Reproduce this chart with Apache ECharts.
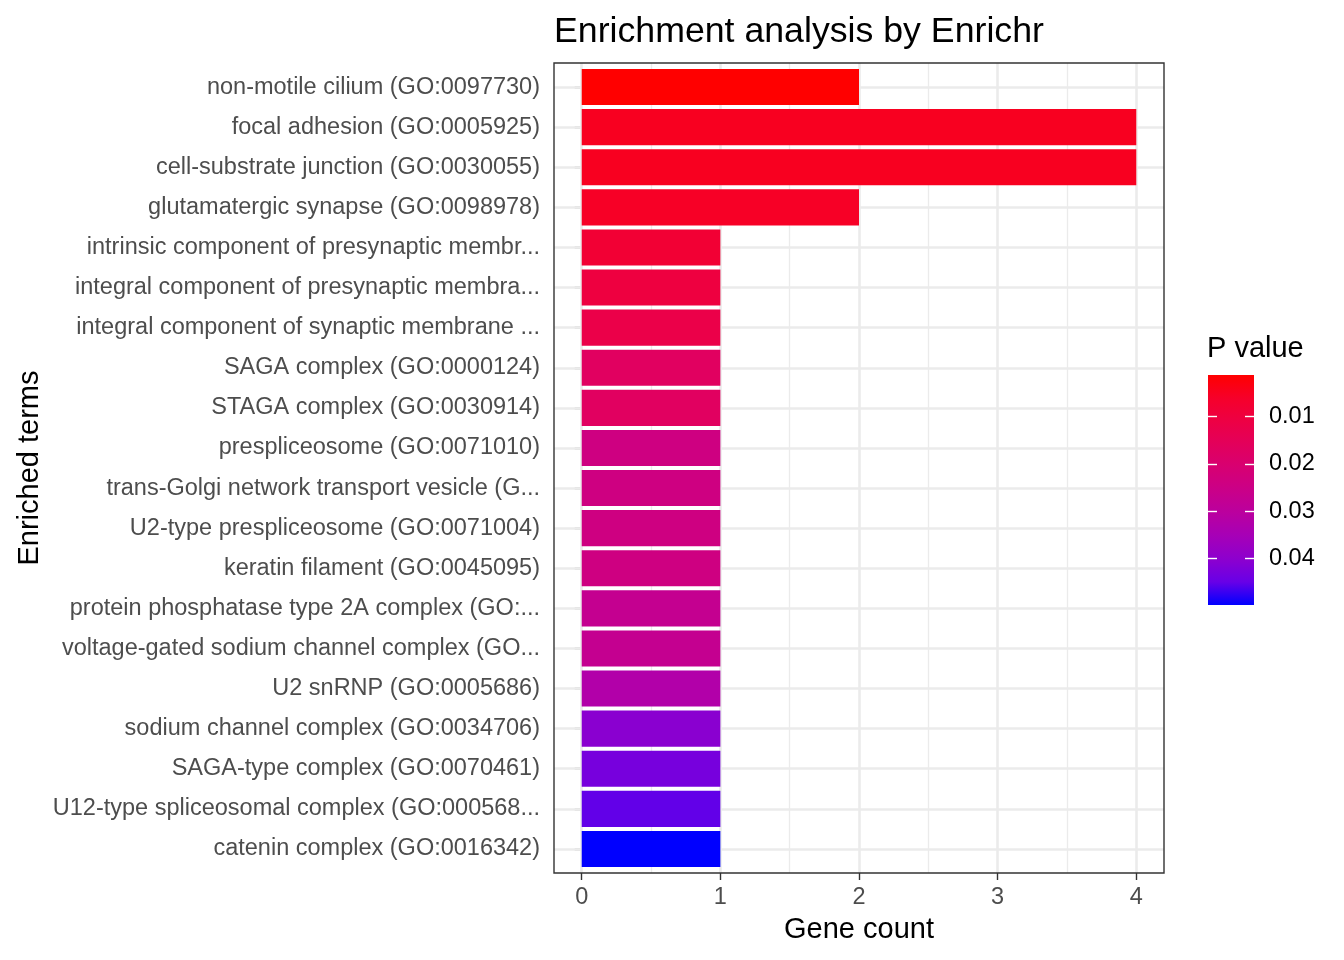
<!DOCTYPE html>
<html>
<head>
<meta charset="utf-8">
<script src="https://cdn.jsdelivr.net/npm/echarts@6/dist/echarts.min.js"></script>
<style>html,body{margin:0;padding:0;background:#fff}#c{width:1344px;height:960px}</style>
</head>
<body>
<div id="c"></div>
<script>
// ---- data ----
const terms = [
  'non-motile cilium (GO:0097730)',
  'focal adhesion (GO:0005925)',
  'cell-substrate junction (GO:0030055)',
  'glutamatergic synapse (GO:0098978)',
  'intrinsic component of presynaptic membr...',
  'integral component of presynaptic membra...',
  'integral component of synaptic membrane ...',
  'SAGA complex (GO:0000124)',
  'STAGA complex (GO:0030914)',
  'prespliceosome (GO:0071010)',
  'trans-Golgi network transport vesicle (G...',
  'U2-type prespliceosome (GO:0071004)',
  'keratin filament (GO:0045095)',
  'protein phosphatase type 2A complex (GO:...',
  'voltage-gated sodium channel complex (GO...',
  'U2 snRNP (GO:0005686)',
  'sodium channel complex (GO:0034706)',
  'SAGA-type complex (GO:0070461)',
  'U12-type spliceosomal complex (GO:000568...',
  'catenin complex (GO:0016342)'
];
const geneCounts = [2, 4, 4, 2, 1, 1, 1, 1, 1, 1, 1, 1, 1, 1, 1, 1, 1, 1, 1, 1];
const pValues = [0.0012, 0.0049, 0.0049, 0.0056, 0.0080, 0.0102, 0.0119, 0.0168, 0.0168, 0.0241,
                 0.0241, 0.0241, 0.0241, 0.0273, 0.0273, 0.0324, 0.0406, 0.0431, 0.0453, 0.0499];
const xTicks = [0, 1, 2, 3, 4];
const xMinorGrid = [0.5, 1.5, 2.5, 3.5];
const legendTicks = [0.01, 0.02, 0.03, 0.04];
const pRange = [0.0012, 0.0499];
const gradientColors = ['#FF0000', '#F6002A', '#ED0044', '#E3005B', '#D70072', '#CA0088',
                        '#BA009F', '#A600B7', '#8D00CE', '#6800E7', '#0000FF'];

// ---- layout ----
const W = 1344, H = 960;
const PL = 554, PR = 1164, PT = 63, PB = 873;
const band = (PB - PT) / (terms.length + 0.2);
const FONT = 'Liberation Sans';

const chart = echarts.init(document.getElementById('c'), null, {renderer: 'canvas'});
const colorbarGradient = {
  type: 'linear', x: 0, y: 0, x2: 0, y2: 1,
  colorStops: gradientColors.map((c, i) => ({offset: i / (gradientColors.length - 1), color: c}))
};

chart.setOption({
  animation: false,
  backgroundColor: '#fff',
  textStyle: {fontFamily: FONT},
  title: [
    {text: 'Enrichment analysis by Enrichr', left: PL, top: 14, padding: 0,
     textStyle: {fontFamily: FONT, fontSize: 35.7, fontWeight: 'normal', color: '#000'}},
    {text: 'P value', left: 1207, top: 334, padding: 0,
     textStyle: {fontFamily: FONT, fontSize: 29, fontWeight: 'normal', color: '#000'}}
  ],
  grid: [
    {left: PL, right: W - PR, top: PT + 0.1 * band, bottom: H - (PB - 0.1 * band), show: false},
    {left: PL, right: W - PR, top: PT, bottom: H - PB, show: true, z: 10,
     borderColor: '#333333', borderWidth: 1.4, backgroundColor: 'transparent'},
    {left: 1208, top: 375, width: 46, height: 230, show: false}
  ],
  visualMap: {
    type: 'continuous', show: false, seriesIndex: 0, dimension: 2,
    min: pRange[0], max: pRange[1], inRange: {color: gradientColors}
  },
  xAxis: [
    {gridIndex: 0, type: 'value', min: -0.2, max: 4.2, show: false},
    {gridIndex: 1, type: 'value', min: -0.2, max: 4.2,
     axisLine: {show: false},
     axisTick: {show: true, customValues: xTicks, length: 7, lineStyle: {color: '#333333', width: 1.4}},
     axisLabel: {customValues: xTicks, fontSize: 23.5, color: '#4D4D4D', margin: 13, fontFamily: FONT},
     splitLine: {show: false},
     name: 'Gene count', nameLocation: 'middle', nameGap: 42,
     nameTextStyle: {fontSize: 29, color: '#000', fontFamily: FONT}},
    {gridIndex: 2, type: 'category', data: ['P value'], show: false}
  ],
  yAxis: [
    {gridIndex: 0, type: 'category', data: terms, inverse: true,
     axisLine: {show: false},
     axisTick: {show: true, alignWithLabel: true, length: 7, lineStyle: {color: '#333333', width: 1.4}},
     axisLabel: {interval: 0, fontSize: 23.5, color: '#4D4D4D', margin: 14, fontFamily: FONT,
                 padding: [8, 0, 0, 0]},
     splitLine: {show: false},
     name: 'Enriched terms', nameLocation: 'middle', nameGap: 510,
     nameTextStyle: {fontSize: 29, color: '#000', fontFamily: FONT}},
    {gridIndex: 1, type: 'value', min: 0.4, max: terms.length + 0.6, show: false},
    {gridIndex: 2, type: 'value', min: pRange[0], max: pRange[1], inverse: true, position: 'right', z: 10,
     axisLine: {show: false},
     axisTick: {show: true, inside: true, customValues: legendTicks, length: 9, lineStyle: {color: '#ffffff', width: 1.4}},
     axisLabel: {customValues: legendTicks, fontSize: 23.5, color: '#000', margin: 15, fontFamily: FONT,
                 padding: [8, 0, 0, 0]},
     splitLine: {show: false}},
    {gridIndex: 2, type: 'value', min: pRange[0], max: pRange[1], inverse: true, position: 'left', z: 10,
     axisLine: {show: false},
     axisTick: {show: true, inside: true, customValues: legendTicks, length: 9, lineStyle: {color: '#ffffff', width: 1.4}},
     axisLabel: {show: false},
     splitLine: {show: false}}
  ],
  series: [
    {
      type: 'bar', xAxisIndex: 0, yAxisIndex: 0, z: 5,
      barWidth: '90%',
      encode: {x: 0, y: 1},
      data: terms.map((t, i) => [geneCounts[i], t, pValues[i]])
    },
    {
      type: 'line', xAxisIndex: 1, yAxisIndex: 1, z: 1, data: [], silent: true,
      markLine: {
        z: 1, silent: true, symbol: ['none', 'none'], label: {show: false}, animation: false,
        lineStyle: {color: '#EBEBEB', type: 'solid', width: 2.6},
        emphasis: {disabled: true},
        data: [
          ...xMinorGrid.map(v => ({xAxis: v, lineStyle: {color: '#EBEBEB', type: 'solid', width: 1.3}})),
          ...xTicks.map(v => ({xAxis: v})),
          ...terms.map((t, i) => ({yAxis: i + 1}))
        ]
      }
    },
    {
      type: 'bar', xAxisIndex: 2, yAxisIndex: 2, z: 2, barWidth: '100%', silent: true,
      itemStyle: {color: colorbarGradient},
      data: [pRange[1]]
    }
  ]
});
</script>
</body>
</html>
